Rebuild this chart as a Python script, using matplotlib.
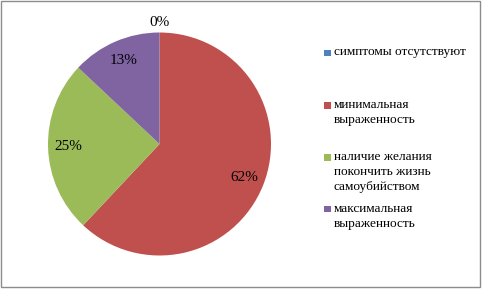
import matplotlib.pyplot as plt
from matplotlib.patches import Rectangle

# data
labels = ["симптомы отсутствуют",
          "минимальная\nвыраженность",
          "наличие желания\nпокончить жизнь\nсамоубийством",
          "максимальная\nвыраженность"]
values = [0, 62, 25, 13]
colors = ["#4F81BD", "#C0504D", "#9BBB59", "#8064A2"]

plt.rcParams['font.family'] = ['Liberation Serif', 'DejaVu Serif']

W, H = 482, 290
fig = plt.figure(figsize=(W / 100, H / 100), dpi=100)

# pie axes: centre (159.5,144), radius ~111.5 px
cx, cy, r = 159.5, 144, 111.5
ax = fig.add_axes([(cx - r) / W, (H - cy - r) / H, 2 * r / W, 2 * r / H])
wedges, texts, autotexts = ax.pie(values, colors=colors, startangle=90,
                                  counterclock=False, radius=1,
                                  autopct='%.0f%%', pctdistance=0.82,
                                  wedgeprops=dict(linewidth=0),
                                  textprops=dict(fontsize=11, color='black'))
autotexts[0].set_position((0, 1.09))
ax.set_xlim(-1, 1)
ax.set_ylim(-1, 1)
ax.axis('off')

# legend drawn by hand (uneven spacing like the original)
legend_y = [52.5, 105, 157, 208.5]
line_h = 15.2
for lab, col, y in zip(labels, colors, legend_y):
    fig.patches.append(Rectangle(((324) / W, (H - y - 3.5) / H), 6.5 / W, 6.5 / H,
                                 transform=fig.transFigure, facecolor=col,
                                 edgecolor='none'))
    for i, line in enumerate(lab.split("\n")):
        fig.text(334 / W, (H - y - i * line_h) / H, line, fontsize=9.6,
                 va='center', ha='left', color='black')

# outer frame
fig.patches.append(Rectangle((1 / W, 3 / H), (W - 3) / W, (H - 4) / H,
                             transform=fig.transFigure, facecolor='none',
                             edgecolor='#8c8c8c', linewidth=1))

fig.savefig("out.png", dpi=100)
